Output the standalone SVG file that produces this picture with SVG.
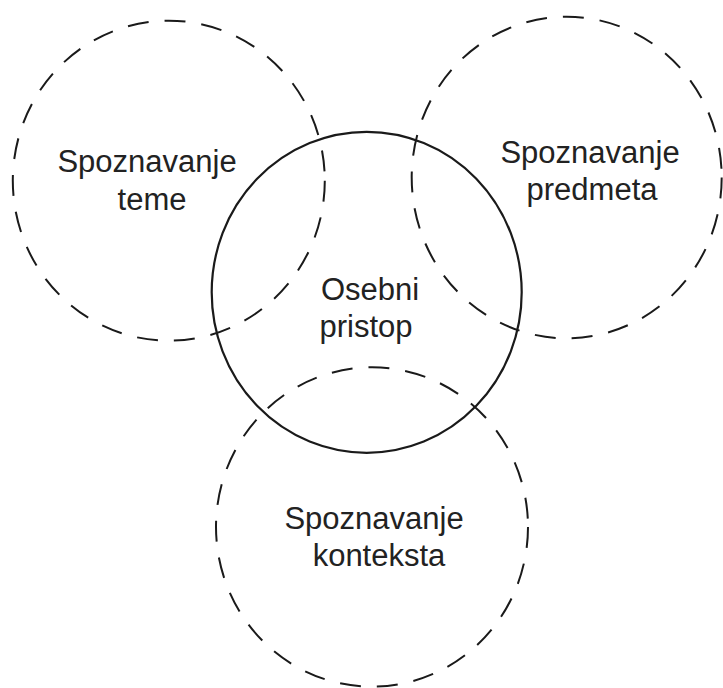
<svg xmlns="http://www.w3.org/2000/svg" width="723" height="688" viewBox="0 0 723 688">
<style>
.bg{fill:#ffffff}
.dash{fill:none;stroke:#1a1a1a;stroke-width:2;stroke-dasharray:21 16}
.solid{fill:none;stroke:#1a1a1a;stroke-width:2.2}
.lbl{font-family:"Liberation Sans",Arial,sans-serif;font-size:31px;fill:#222222;text-anchor:middle}
</style>
<rect class="bg" x="0" y="0" width="723" height="688"/>
<g id="connectors"></g>
<g id="tema">
<ellipse class="dash" cx="168.8" cy="180.7" rx="156" ry="160"/>
<text class="lbl" x="147" y="171.5">Spoznavanje</text>
<text class="lbl" x="152" y="210">teme</text>
</g>
<g id="predmet">
<ellipse class="dash" cx="566.7" cy="177.5" rx="155" ry="160.8"/>
<text class="lbl" x="590" y="162.5">Spoznavanje</text>
<text class="lbl" x="592" y="200">predmeta</text>
</g>
<g id="kontekst">
<ellipse class="dash" cx="372" cy="527" rx="156" ry="159.7"/>
<text class="lbl" x="374" y="528.5">Spoznavanje</text>
<text class="lbl" x="379" y="566">konteksta</text>
</g>
<g id="osebni">
<ellipse class="solid" cx="366.7" cy="292.3" rx="155" ry="160.5"/>
<text class="lbl" x="370" y="299.5">Osebni</text>
<text class="lbl" x="366" y="337">pristop</text>
</g>
</svg>
